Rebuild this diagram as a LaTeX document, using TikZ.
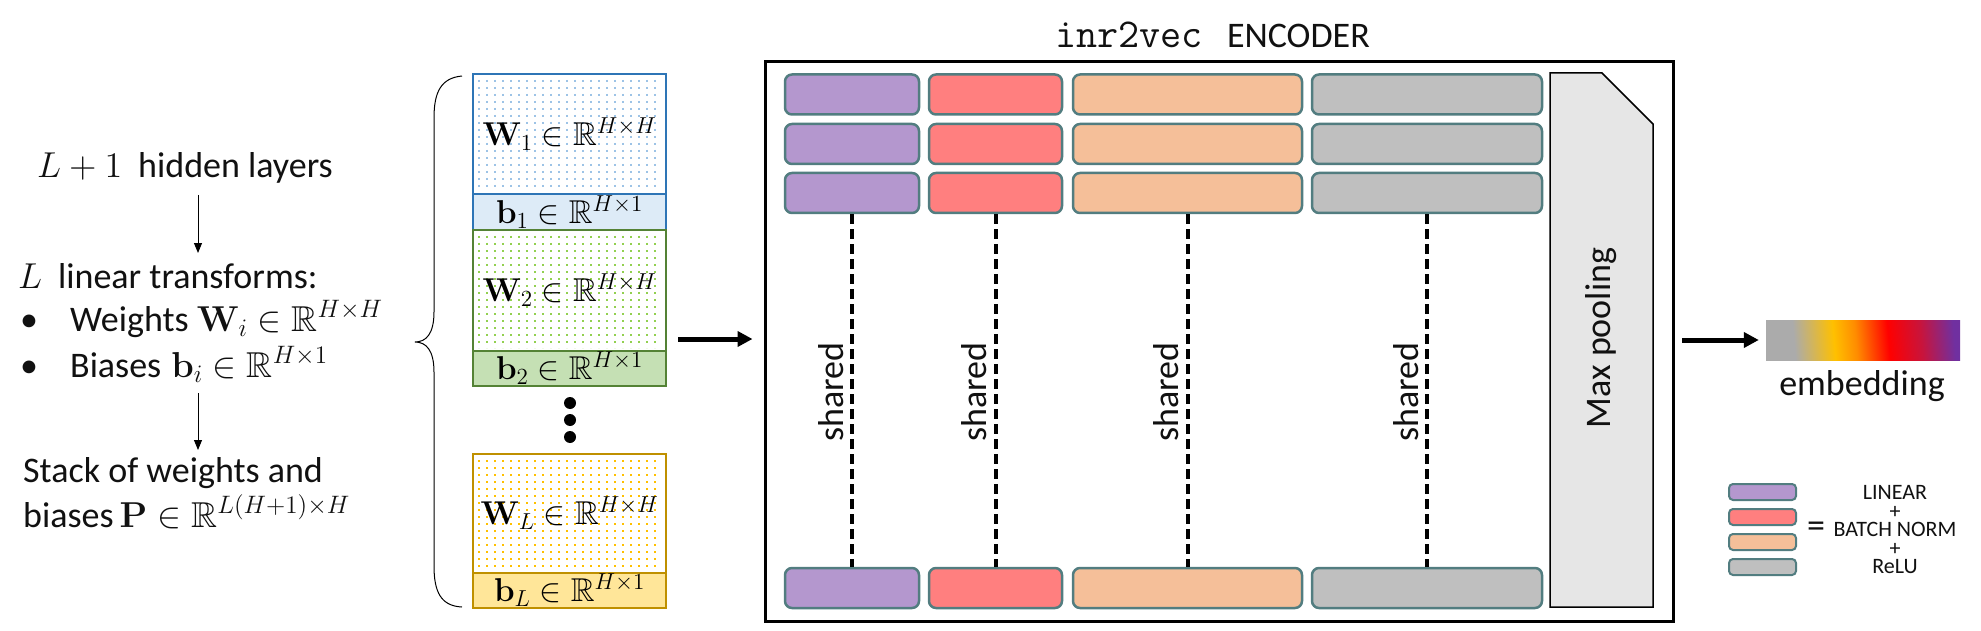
\documentclass[tikz,border=0pt]{standalone}
\usepackage{amsmath,amssymb}
\usepackage[no-math]{fontspec}
\setmainfont{Carlito}
\DeclareFontShape{OML}{cmm}{m}{it}{<-8>cmmi7<8-11>cmmi10<11->cmmi12}{}
\DeclareFontShape{OMS}{cmsy}{m}{n}{<-6>cmsy5<6-8>cmsy7<8->cmsy10}{}
\DeclareFontShape{OT1}{cmr}{m}{n}{<-6>cmr5<6-8>cmr7<8-11>cmr10<11->cmr12}{}
\DeclareFontShape{OT1}{cmr}{bx}{n}{<-6>cmbx5<6-8>cmbx7<8-11>cmbx10<11->cmbx12}{}
\DeclareFontShape{OMX}{cmex}{m}{n}{<->cmex10}{}
\DeclareFontFamily{U}{msb}{}
\DeclareFontShape{U}{msb}{m}{n}{<-6>msbm5<6-8>msbm7<8->msbm10}{}
\usetikzlibrary{arrows.meta}
\definecolor{cpur}{HTML}{B497CE}
\definecolor{cred}{HTML}{FF7F7F}
\definecolor{corg}{HTML}{F5BF99}
\definecolor{cgry}{HTML}{BFBFBF}
\definecolor{cbord}{HTML}{527D80}
\definecolor{cpool}{HTML}{E6E6E6}
\definecolor{bluec}{HTML}{2E75B6}
\definecolor{bluedot}{HTML}{9DC3E6}
\definecolor{bluefill}{HTML}{DDEBF7}
\definecolor{greenc}{HTML}{548235}
\definecolor{greendot}{HTML}{92D050}
\definecolor{greenfill}{HTML}{C5E0B4}
\definecolor{goldc}{HTML}{BF9000}
\definecolor{golddot}{HTML}{FFC000}
\definecolor{goldfill}{HTML}{FFE699}
\definecolor{eg}{HTML}{ABABAB}
\definecolor{egold}{HTML}{FFC000}
\definecolor{eorange}{HTML}{FF8C00}
\definecolor{ered}{HTML}{FF0000}
\definecolor{ecrim}{HTML}{C8143C}
\definecolor{epurp}{HTML}{7030A0}
\definecolor{txtc}{HTML}{111111}
\pgfdeclarehorizontalshading{embshade}{100bp}{color(0bp)=(eg); color(25bp)=(eg); color(31bp)=(eg); color(42bp)=(egold); color(48bp)=(eorange); color(57bp)=(ered); color(66bp)=(ecrim); color(75bp)=(epurp); color(100bp)=(epurp)}
\tikzset{
  txt/.style={font=\fontsize{36}{43}\selectfont, inner sep=0pt, text=txtc},
  mtxt/.style={font=\fontsize{33}{40}\selectfont, inner sep=0pt},
  blk/.style={draw=cbord, line width=2.5pt, rounded corners=7pt, minimum height=40pt, inner sep=0pt},
  lgblk/.style={draw=cbord, line width=2pt, rounded corners=4pt, minimum width=67pt, minimum height=16pt, inner sep=0pt},
  shareline/.style={line width=4pt, dash pattern=on 10pt off 5pt},
  thinarrow/.style={line width=1pt, -{Triangle[length=10pt,width=8pt]}},
  bigarrow/.style={line width=5pt, -{Triangle[length=15pt,width=15pt]}},
  matbox/.style={line width=2pt, minimum width=193pt, inner sep=0pt},
  dotcol/.style={line width=1.5pt, dash pattern=on 2pt off 5pt}
}
\begin{document}
\begin{tikzpicture}[x=1pt,y=-1pt]
\useasboundingbox[fill=white] (0,0) rectangle (1981,631);

% ---------------- left text ----------------
\node[txt, anchor=base west] (t1) at (37,178) {$L+1$\hspace{16pt}hidden layers};
\node[txt, anchor=base west] (t2) at (18,288) {$L$\hspace{16pt}linear transforms:};
\node[txt, anchor=base west] (t3) at (20,331) {\makebox[50pt][l]{\textbullet}Weights $\mathbf{W}_{\smash{i}}\in\mathbb{R}^{H\times H}$};
\node[txt, anchor=base west] (t4) at (20,377) {\makebox[50pt][l]{\textbullet}Biases\hspace{10pt}$\mathbf{b}_i\in\smash{\mathbb{R}^{H\times 1}}$};
\node[txt, anchor=base west] (t5) at (23,482) {Stack of weights and};
\node[txt, anchor=base west] (t6) at (23,527) {biases\hspace{6pt}$\mathbf{P}\in\mathbb{R}^{L(H+1)\times H}$};
\coordinate (a1s) at (198,195); \coordinate (a1e) at (198,253);
\coordinate (a2s) at (198,393); \coordinate (a2e) at (198,450);
\draw[thinarrow] (a1s) -- (a1e);
\draw[thinarrow] (a2s) -- (a2e);

% ---------------- brace ----------------
\draw[line width=1pt] (462,76) .. controls (441,78) and (434,92) .. (434,118) -- (434,312)
  .. controls (434,334) and (426,342) .. (415,342)
  .. controls (426,342) and (434,350) .. (434,372) -- (434,566)
  .. controls (434,592) and (441,606) .. (462,607);

% ---------------- parameter stack ----------------
\foreach \x in {479,487,...,659} {
  \draw[bluedot, dotcol] (\x,80) -- (\x,191);
  \draw[greendot, dotcol] (\x,236) -- (\x,348);
  \draw[golddot, dotcol] (\x,460) -- (\x,570);
}
\node[matbox, draw=bluec, minimum height=120pt, mtxt] (W1) at (569.5,134) {$\mathbf{W}_1\in\mathbb{R}^{H\times H}$};
\node[matbox, draw=bluec, fill=bluefill, minimum height=36pt, mtxt] (b1) at (569.5,212) {$\mathbf{b}_1\in\mathbb{R}^{H\times 1}$};
\node[matbox, draw=greenc, minimum height=121pt, mtxt] (W2) at (569.5,290.5) {$\mathbf{W}_2\in\mathbb{R}^{H\times H}$};
\node[matbox, draw=greenc, fill=greenfill, minimum height=35pt, mtxt] (b2) at (569.5,368.5) {$\mathbf{b}_2\in\mathbb{R}^{H\times 1}$};
\node[matbox, draw=goldc, minimum height=119pt, mtxt] (WL) at (569.5,513.5) {$\mathbf{W}_L\in\mathbb{R}^{H\times H}$};
\node[matbox, draw=goldc, fill=goldfill, minimum height=35pt, mtxt] (bL) at (569.5,590.5) {$\mathbf{b}_L\in\mathbb{R}^{H\times 1}$};
\fill (570,403) circle (6pt);
\fill (570,420) circle (6pt);
\fill (570,437) circle (6pt);

% ---------------- encoder ----------------
\node[draw, line width=3pt, minimum width=908pt, minimum height=559pt, inner sep=0pt] (enc) at (1219,341.5) {};
\node[txt, anchor=base west] (title) at (1055,48) {{\fontsize{41}{43}\selectfont\ttfamily inr2vec}\hspace{24pt}ENCODER};

\coordinate (arrL) at (678,339);
\draw[bigarrow, shorten >=11pt] (arrL) -- (arrL -| enc.west);

\foreach \r/\y in {1/94.5, 2/144, 3/193, 4/588} {
  \node[blk, fill=cpur, minimum width=134pt] (p\r) at (852,\y) {};
  \node[blk, fill=cred, minimum width=133pt] (r\r) at (995.5,\y) {};
  \node[blk, fill=corg, minimum width=229pt] (o\r) at (1187.5,\y) {};
  \node[blk, fill=cgry, minimum width=230pt] (g\r) at (1427,\y) {};
}
\draw[shareline] (p3.south) -- (p4.north);
\draw[shareline] (r3.south) -- (r4.north);
\draw[shareline] (o3.south) -- (o4.north);
\draw[shareline] (g3.south) -- (g4.north);
\node[txt, rotate=90, anchor=base] (s1) at (843,392) {shared};
\node[txt, rotate=90, anchor=base] (s2) at (986.5,392) {shared};
\node[txt, rotate=90, anchor=base] (s3) at (1178.5,392) {shared};
\node[txt, rotate=90, anchor=base] (s4) at (1418,392) {shared};

% max pooling
\draw[fill=cpool, line width=1.5pt] (1550,73) -- (1602,73) -- (1653,124) -- (1653,607) -- (1550,607) -- cycle;
\node[txt, rotate=90, anchor=base] (mp) at (1610,338) {Max pooling};

% ---------------- embedding ----------------
\node[shade, shading=embshade, shading angle=5, minimum width=194pt, minimum height=40pt, inner sep=0pt] (emb) at (1863,340) {};
\node[txt, anchor=base] (embl) at (1862,395) {embedding};
\coordinate (arrR) at (1682,340);
\draw[bigarrow, shorten >=7pt] (arrR) -- (emb.west);

% ---------------- legend ----------------
\node[lgblk, fill=cpur] (l1) at (1762.5,492) {};
\node[lgblk, fill=cred] (l2) at (1762.5,517) {};
\node[lgblk, fill=corg] (l3) at (1762.5,542) {};
\node[lgblk, fill=cgry] (l4) at (1762.5,567) {};
\node[font=\fontsize{36}{36}\selectfont, inner sep=0pt, text=txtc] (eq) at (1816,530) {=};
\node[font=\fontsize{22}{18.5}\selectfont, align=center, inner sep=0pt, text=txtc] (lgt) at (1895,530) {LINEAR\\+\\BATCH NORM\\+\\ReLU};
\end{tikzpicture}
\end{document}
